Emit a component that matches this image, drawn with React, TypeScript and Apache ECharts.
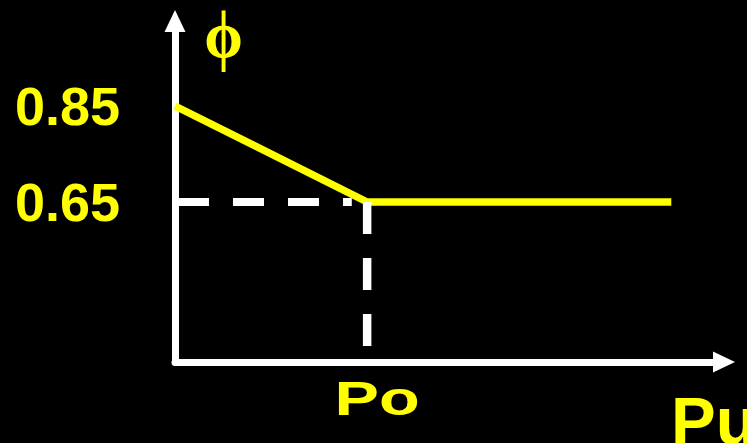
import React, { useEffect, useRef } from "react";
import * as echarts from "echarts";

// Data
const PHI_X = [0, 35, 90.4];          // x positions of the phi curve (0..100 scale)
const PHI_Y = [0.85, 0.65, 0.65];     // phi values
const PO = 35;                        // x position of Po
const H_DASH_END = 32.2;              // horizontal dashed guide ends slightly before Po
const Y_TICKS = [0.65, 0.85];         // y tick labels shown
const X_MIN = 0;
const X_MAX = 100;
const Y_MIN = 0.3167;
const Y_MAX = 1.0271;
const Y_NAME = "ϕ";
const X_LABEL = "Po";
const X_NAME = "Pu";

const YELLOW = "#ffff00";
const WHITE = "#ffffff";
const SANS = "'Liberation Sans', Arial, Helvetica, sans-serif";
const SERIF = "'Liberation Serif', 'DejaVu Serif', 'Times New Roman', serif";

export default function App() {
  const ref = useRef<HTMLDivElement>(null);

  useEffect(() => {
    if (!ref.current) return;
    document.body.style.margin = "0";
    document.body.style.background = "#000";
    const chart = echarts.init(ref.current, null, { renderer: "svg" });
    const option: any = {
      animation: false,
      backgroundColor: "#000000",
      grid: { left: 175, right: 23, top: 21, bottom: 81, containLabel: false, outerBoundsMode: "none" },
      xAxis: {
        type: "value",
        min: X_MIN,
        max: X_MAX,
        axisLine: {
          show: true,
          symbol: ["none", "triangle"],
          symbolSize: [21, 22],
          lineStyle: { color: WHITE, width: 7 },
        },
        axisTick: { show: false },
        axisLabel: { show: false },
        splitLine: { show: false },
      },
      yAxis: {
        type: "value",
        min: Y_MIN,
        max: Y_MAX,
        axisLine: {
          show: true,
          symbol: ["none", "triangle"],
          symbolSize: [21, 22],
          lineStyle: { color: WHITE, width: 7 },
        },
        axisTick: { show: false },
        splitLine: { show: false },
        axisLabel: {
          show: true,
          customValues: Y_TICKS,
          formatter: (v: number) => v.toFixed(2),
          color: YELLOW,
          fontSize: 54,
          fontWeight: "bold",
          fontFamily: SANS,
          margin: 55,
          padding: [0, 0, 8, 0],
        },
      },
      series: [
        {
          type: "line",
          data: PHI_X.map((x, i) => [x, PHI_Y[i]]),
          symbol: "none",
          lineStyle: { color: YELLOW, width: 7.4, cap: "butt" },
          z: 2,
        },
        {
          type: "line",
          data: [
            [X_MIN, PHI_Y[1]],
            [H_DASH_END, PHI_Y[1]],
          ],
          symbol: "none",
          lineStyle: { color: WHITE, width: 8, type: [31, 24], dashOffset: 52 },
          z: 3,
        },
        {
          type: "line",
          data: [
            [PO, PHI_Y[1]],
            [PO, Y_MIN],
          ],
          symbol: "none",
          lineStyle: { color: WHITE, width: 8.5, type: [32, 24] },
          z: 3,
        },
      ],
    };
    chart.setOption(option);

    const [poPx, axisPy] = chart.convertToPixel({ gridIndex: 0 }, [PO, Y_MIN]) as number[];
    const [axisPx, topPy] = chart.convertToPixel({ gridIndex: 0 }, [X_MIN, Y_MAX]) as number[];
    const [endPx] = chart.convertToPixel({ gridIndex: 0 }, [X_MAX, Y_MIN]) as number[];

    chart.setOption({
      graphic: [
        {
          type: "text",
          x: axisPx + 48.5,
          y: topPy + 15,
          scaleY: 1.08,
          style: {
            text: Y_NAME,
            fill: YELLOW,
            fontSize: 62,
            fontWeight: "bold",
            fontFamily: SERIF,
            align: "center",
            verticalAlign: "middle",
          },
        },
        {
          type: "text",
          x: poPx + 10,
          y: axisPy + 35.5,
          scaleX: 1.36,
          style: {
            text: X_LABEL,
            fill: YELLOW,
            fontSize: 49,
            fontWeight: "bold",
            fontFamily: SANS,
            align: "center",
            verticalAlign: "middle",
          },
        },
        {
          type: "text",
          x: endPx - 53,
          y: axisPy + 58.7,
          style: {
            text: X_NAME,
            fill: YELLOW,
            fontSize: 67,
            fontWeight: "bold",
            fontFamily: SANS,
            align: "left",
            verticalAlign: "middle",
          },
        },
      ],
    });

    return () => chart.dispose();
  }, []);

  return (
    <div
      ref={ref}
      style={{ position: "fixed", left: 0, top: 0, width: 747, height: 443, background: "#000" }}
    />
  );
}
